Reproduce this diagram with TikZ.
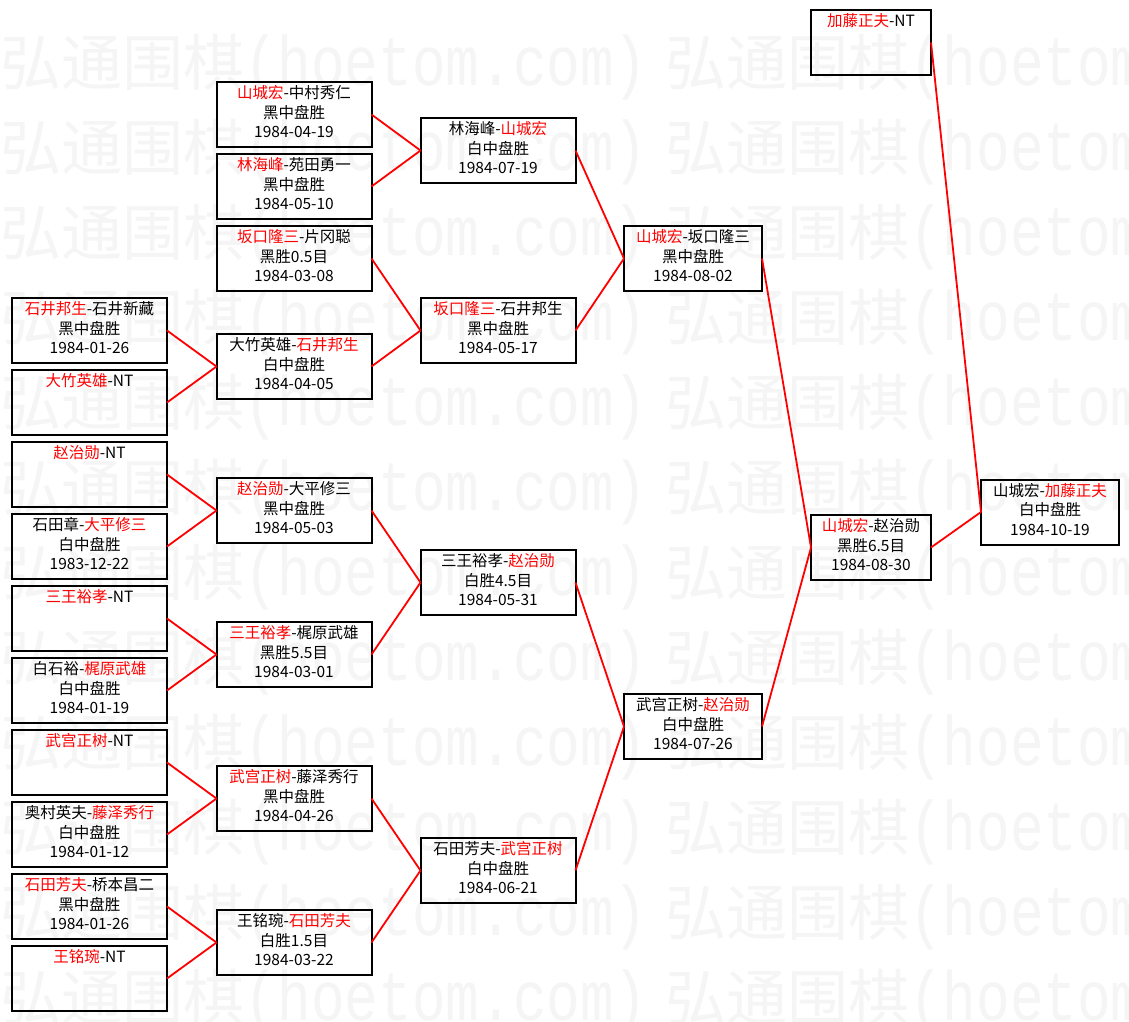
\documentclass[tikz,border=0pt]{standalone}
\usepackage{fontspec}
\newfontfamily\cjk{Noto Sans CJK SC}
\newfontfamily\wmlatin[FakeStretch=0.8]{Liberation Mono}
\usetikzlibrary{positioning}
\colorlet{wmcolor}{black!4}
\newcommand{\winner}[1]{\textcolor{red}{#1}}
\newcommand{\gameinfo}[3]{\strut#1\\\strut#2\\\strut#3}
\tikzset{game/.style = {rectangle, draw=black, line width=2pt, minimum height=65pt, inner sep=2pt, outer sep=0pt, align=center, font=\cjk\fontsize{15.5}{19.5}\selectfont}}
\tikzset{gamewide/.style = {game, minimum width=155pt}}
\tikzset{gamemid/.style = {game, minimum width=138pt}}
\tikzset{gameslim/.style = {game, minimum width=120pt}}
\tikzset{redline/.style={red, line width=1.8pt}}
\tikzset{watermark/.style={anchor=west, inner sep=0pt, text=wmcolor}}

\begin{document}
\begin{tikzpicture}[x=1pt, y=-1pt]
\clip (0,0) rectangle (1129,1021);
\fill [white] (0,0) rectangle (1129,1021);
\foreach \row in {0,...,11}
  \foreach \col in {0,665}
    \node [watermark] (wm-\row-\col) at (\col,67+85*\row) {{\cjk\fontsize{61}{61}\selectfont 弘通围棋}{\wmlatin\fontsize{70}{70}\selectfont (hoetom.com)}};

\node [gamewide] (a1) at (89.5,330.5) {\gameinfo{\winner{石井邦生}-石井新藏}{黑中盘胜}{1984-01-26}};
\node [gamewide, below=7pt of a1] (a2) {\gameinfo{\winner{大竹英雄}-NT}{}{}};
\node [gamewide, below=7pt of a2] (a3) {\gameinfo{\winner{赵治勋}-NT}{}{}};
\node [gamewide, below=7pt of a3] (a4) {\gameinfo{石田章-\winner{大平修三}}{白中盘胜}{1983-12-22}};
\node [gamewide, below=7pt of a4] (a5) {\gameinfo{\winner{三王裕孝}-NT}{}{}};
\node [gamewide, below=7pt of a5] (a6) {\gameinfo{白石裕-\winner{梶原武雄}}{白中盘胜}{1984-01-19}};
\node [gamewide, below=7pt of a6] (a7) {\gameinfo{\winner{武宫正树}-NT}{}{}};
\node [gamewide, below=7pt of a7] (a8) {\gameinfo{奥村英夫-\winner{藤泽秀行}}{白中盘胜}{1984-01-12}};
\node [gamewide, below=7pt of a8] (a9) {\gameinfo{\winner{石田芳夫}-桥本昌二}{黑中盘胜}{1984-01-26}};
\node [gamewide, below=7pt of a9] (a10) {\gameinfo{\winner{王铭琬}-NT}{}{}};

\node [gamewide] (b1) at (294,114.5) {\gameinfo{\winner{山城宏}-中村秀仁}{黑中盘胜}{1984-04-19}};
\node [gamewide, below=7pt of b1] (b2) {\gameinfo{\winner{林海峰}-苑田勇一}{黑中盘胜}{1984-05-10}};
\node [gamewide, below=7pt of b2] (b3) {\gameinfo{\winner{坂口隆三}-片冈聪}{黑胜0.5目}{1984-03-08}};
\node [gamewide] (b4) at (294,366.5) {\gameinfo{大竹英雄-\winner{石井邦生}}{白中盘胜}{1984-04-05}};
\node [gamewide] (b5) at (294,510.5) {\gameinfo{\winner{赵治勋}-大平修三}{黑中盘胜}{1984-05-03}};
\node [gamewide] (b6) at (294,654.5) {\gameinfo{\winner{三王裕孝}-梶原武雄}{黑胜5.5目}{1984-03-01}};
\node [gamewide] (b7) at (294,798.5) {\gameinfo{\winner{武宫正树}-藤泽秀行}{黑中盘胜}{1984-04-26}};
\node [gamewide] (b8) at (294,942.5) {\gameinfo{王铭琬-\winner{石田芳夫}}{白胜1.5目}{1984-03-22}};

\node [gamewide] (c1) at (498,150.5) {\gameinfo{林海峰-\winner{山城宏}}{白中盘胜}{1984-07-19}};
\node [gamewide] (c2) at (498,330.5) {\gameinfo{\winner{坂口隆三}-石井邦生}{黑中盘胜}{1984-05-17}};
\node [gamewide] (c3) at (498,582.5) {\gameinfo{三王裕孝-\winner{赵治勋}}{白胜4.5目}{1984-05-31}};
\node [gamewide] (c4) at (498,870.5) {\gameinfo{石田芳夫-\winner{武宫正树}}{白中盘胜}{1984-06-21}};

\node [gamemid] (d1) at (693,258.5) {\gameinfo{\winner{山城宏}-坂口隆三}{黑中盘胜}{1984-08-02}};
\node [gamemid] (d2) at (693,726.5) {\gameinfo{武宫正树-\winner{赵治勋}}{白中盘胜}{1984-07-26}};

\node [gameslim] (e1) at (871,547.5) {\gameinfo{\winner{山城宏}-赵治勋}{黑胜6.5目}{1984-08-30}};
\node [gameslim] (e2) at (871,42.5) {\gameinfo{\winner{加藤正夫}-NT}{}{}};

\node [gamemid] (f1) at (1050,512) {\gameinfo{山城宏-\winner{加藤正夫}}{白中盘胜}{1984-10-19}};

\draw [redline] (a1.east) -- (b4.west);
\draw [redline] (a2.east) -- (b4.west);
\draw [redline] (a3.east) -- (b5.west);
\draw [redline] (a4.east) -- (b5.west);
\draw [redline] (a5.east) -- (b6.west);
\draw [redline] (a6.east) -- (b6.west);
\draw [redline] (a7.east) -- (b7.west);
\draw [redline] (a8.east) -- (b7.west);
\draw [redline] (a9.east) -- (b8.west);
\draw [redline] (a10.east) -- (b8.west);
\draw [redline] (b1.east) -- (c1.west);
\draw [redline] (b2.east) -- (c1.west);
\draw [redline] (b3.east) -- (c2.west);
\draw [redline] (b4.east) -- (c2.west);
\draw [redline] (b5.east) -- (c3.west);
\draw [redline] (b6.east) -- (c3.west);
\draw [redline] (b7.east) -- (c4.west);
\draw [redline] (b8.east) -- (c4.west);
\draw [redline] (c1.east) -- (d1.west);
\draw [redline] (c2.east) -- (d1.west);
\draw [redline] (c3.east) -- (d2.west);
\draw [redline] (c4.east) -- (d2.west);
\draw [redline] (d1.east) -- (e1.west);
\draw [redline] (d2.east) -- (e1.west);
\draw [redline] (e1.east) -- (f1.west);
\draw [redline] (e2.east) -- (f1.west);
\end{tikzpicture}
\end{document}
